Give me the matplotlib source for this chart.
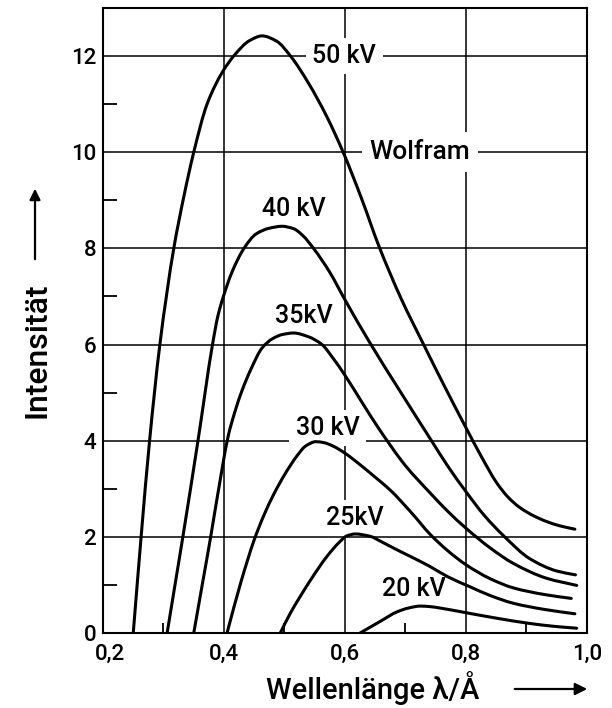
import matplotlib
matplotlib.use("Agg")
import numpy as np
import matplotlib.pyplot as plt
from matplotlib import transforms
from matplotlib.path import Path
from matplotlib.patches import PathPatch

plt.rcParams['font.family'] = ['Roboto', 'DejaVu Sans']
plt.rcParams['font.weight'] = 'medium'

# ---------------- data ----------------
x_ticks = [0.2, 0.4, 0.6, 0.8, 1.0]
x_tick_labels = ["0,2", "0,4", "0,6", "0,8", "1,0"]
x_minor = [0.3, 0.5, 0.7, 0.9]
y_ticks = [0, 2, 4, 6, 8, 10, 12]
y_tick_labels = ["0", "2", "4", "6", "8", "10", "12"]
y_minor = [1, 3, 5, 7, 9, 11]

x_50kv = [0.250, 0.263, 0.277, 0.294, 0.317, 0.334, 0.350, 0.372, 0.398, 0.418,
          0.442, 0.463, 0.487, 0.510, 0.540, 0.570, 0.597, 0.627, 0.656, 0.693,
          0.730, 0.765, 0.800, 0.825, 0.851, 0.870, 0.889, 0.910, 0.933, 0.955, 0.980]
y_50kv = [0.0, 2.0, 4.0, 6.0, 8.0, 9.1, 10.0, 11.0, 11.68, 12.03,
          12.32, 12.42, 12.31, 12.0, 11.43, 10.74, 10.0, 9.05, 8.05, 6.95,
          6.0, 5.12, 4.27, 3.68, 3.12, 2.82, 2.61, 2.45, 2.32, 2.23, 2.16]

x_40kv = [0.306, 0.319, 0.332, 0.357, 0.381, 0.390, 0.399, 0.413, 0.433, 0.453,
          0.475, 0.496, 0.515, 0.530, 0.548, 0.575, 0.600, 0.642, 0.690, 0.743,
          0.770, 0.800, 0.830, 0.864, 0.905, 0.950, 0.981]
y_40kv = [0.0, 1.0, 2.0, 4.0, 6.0, 6.6, 7.0, 7.5, 8.0, 8.3,
          8.42, 8.46, 8.41, 8.27, 8.0, 7.5, 6.93, 6.02, 5.05, 4.0,
          3.47, 2.94, 2.45, 2.0, 1.55, 1.29, 1.21]

x_35kv = [0.350, 0.364, 0.378, 0.398, 0.407, 0.418, 0.430, 0.445, 0.463, 0.480,
          0.497, 0.515, 0.540, 0.562, 0.580, 0.600, 0.628, 0.655, 0.700, 0.741,
          0.770, 0.800, 0.840, 0.878, 0.933, 0.983]
y_35kv = [0.0, 1.0, 2.0, 3.5, 4.1, 4.6, 5.05, 5.5, 5.93, 6.12,
          6.21, 6.24, 6.16, 6.0, 5.72, 5.36, 4.8, 4.27, 3.48, 2.91,
          2.53, 2.18, 1.77, 1.45, 1.14, 0.99]

x_30kv = [0.405, 0.428, 0.450, 0.466, 0.482, 0.500, 0.521, 0.535, 0.552, 0.565,
          0.580, 0.600, 0.625, 0.650, 0.675, 0.710, 0.741, 0.770, 0.800, 0.840,
          0.878, 0.930, 0.974]
y_30kv = [0.0, 1.06, 1.94, 2.45, 2.88, 3.29, 3.69, 3.89, 3.98, 3.96,
          3.89, 3.74, 3.5, 3.24, 2.97, 2.5, 2.05, 1.71, 1.42, 1.13,
          0.94, 0.80, 0.72]

x_25kv = [0.493, 0.510, 0.526, 0.543, 0.570, 0.590, 0.603, 0.617, 0.642, 0.660,
          0.686, 0.715, 0.741, 0.770, 0.807, 0.840, 0.878, 0.930, 0.980]
y_25kv = [0.0, 0.42, 0.76, 1.10, 1.59, 1.88, 2.02, 2.06, 2.01, 1.9,
          1.73, 1.55, 1.38, 1.17, 0.96, 0.78, 0.62, 0.49, 0.40]

x_20kv = [0.625, 0.640, 0.658, 0.686, 0.705, 0.724, 0.740, 0.757, 0.801, 0.850,
          0.905, 0.945, 0.983]
y_20kv = [0.0, 0.11, 0.24, 0.44, 0.52, 0.56, 0.55, 0.52, 0.42, 0.31,
          0.20, 0.14, 0.10]

curve_labels = ["50 kV", "40 kV", "35kV", "30 kV", "25kV", "20 kV"]
label_x = [0.599, 0.515, 0.532, 0.571, 0.617, 0.714]
label_y = [12.0, 8.82, 6.59, 4.26, 2.39, 0.92]
title_text = "Wolfram"
title_pos = (0.724, 10.0)


def smooth_path(xs, ys):
    """Monotone cubic (Fritsch-Carlson) Bezier path through the given points."""
    x = np.asarray(xs, float)
    y = np.asarray(ys, float)
    h = np.diff(x)
    d = np.diff(y) / h
    n = len(x)
    m = np.zeros(n)
    m[0], m[-1] = d[0], d[-1]
    for i in range(1, n - 1):
        if d[i - 1] * d[i] <= 0:
            m[i] = 0.0
        else:
            w1 = 2 * h[i] + h[i - 1]
            w2 = h[i] + 2 * h[i - 1]
            m[i] = (w1 + w2) / (w1 / d[i - 1] + w2 / d[i])
    verts = [(x[0], y[0])]
    codes = [Path.MOVETO]
    for i in range(n - 1):
        verts += [(x[i] + h[i] / 3, y[i] + m[i] * h[i] / 3),
                  (x[i + 1] - h[i] / 3, y[i + 1] - m[i + 1] * h[i] / 3),
                  (x[i + 1], y[i + 1])]
        codes += [Path.CURVE4] * 3
    return Path(verts, codes)


# ---------------- figure ----------------
fig = plt.figure(figsize=(6.12, 7.08), dpi=100)
ax = fig.add_axes([0.1683, 0.1059, 0.7908, 0.8828])
ax.set_xlim(0.2, 1.0)
ax.set_ylim(0, 13)

for s in ax.spines.values():
    s.set_linewidth(1.5)
    s.set_color("black")

ax.set_xticks(x_ticks)
ax.set_xticklabels(x_tick_labels)
ax.set_yticks(y_ticks)
ax.set_yticklabels(y_tick_labels)
ax.set_xticks(x_minor, minor=True)
ax.set_yticks(y_minor, minor=True)
ax.tick_params(which='major', length=0, labelsize=16)
ax.tick_params(axis='x', which='major', pad=8)
ax.tick_params(axis='y', which='major', pad=5)
ax.tick_params(axis='x', which='minor', direction='in', length=7, width=1.3)
ax.tick_params(axis='y', which='minor', direction='in', length=10, width=1.3)

lbl0 = ax.get_xticklabels()[0]
lbl0.set_transform(lbl0.get_transform() + transforms.ScaledTranslation(7/100, 0, fig.dpi_scale_trans))

ax.set_axisbelow(True)
ax.grid(True, which='major', color='black', linewidth=1.1)

series = [(x_50kv, y_50kv), (x_40kv, y_40kv), (x_35kv, y_35kv),
          (x_30kv, y_30kv), (x_25kv, y_25kv), (x_20kv, y_20kv)]
for xs, ys in series:
    patch = PathPatch(smooth_path(xs, ys), transform=ax.transData, fill=False,
                      edgecolor='black', linewidth=2.2, zorder=4,
                      capstyle='round', joinstyle='round')
    ax.add_patch(patch)

for txt, lx, ly in zip(curve_labels, label_x, label_y):
    ax.text(lx, ly, txt, ha='center', va='center', fontsize=18, zorder=3,
            bbox=dict(boxstyle='square,pad=0.25', fc='white', ec='none'))

ax.text(title_pos[0], title_pos[1], title_text, ha='center', va='center',
        fontsize=19, zorder=3,
        bbox=dict(boxstyle='square,pad=0.3', fc='white', ec='none'))

# axis titles with arrows
fig.text(373/612, 1 - 688/708, "Wellenlänge λ/Å", ha='center', va='center', fontsize=21)
ax.annotate('', xy=(590/612, 1 - 689/708), xytext=(512/612, 1 - 689/708),
            xycoords='figure fraction', textcoords='figure fraction',
            arrowprops=dict(arrowstyle='-|>', lw=1.6, color='black', mutation_scale=18))

fig.text(37/612, 1 - 350/708, "Intensität", rotation=90, ha='center', va='center', fontsize=23)
ax.annotate('', xy=(35/612, 1 - 186/708), xytext=(35/612, 1 - 262/708),
            xycoords='figure fraction', textcoords='figure fraction',
            arrowprops=dict(arrowstyle='-|>', lw=1.6, color='black', mutation_scale=16))

fig.savefig("out.png", dpi=100)
